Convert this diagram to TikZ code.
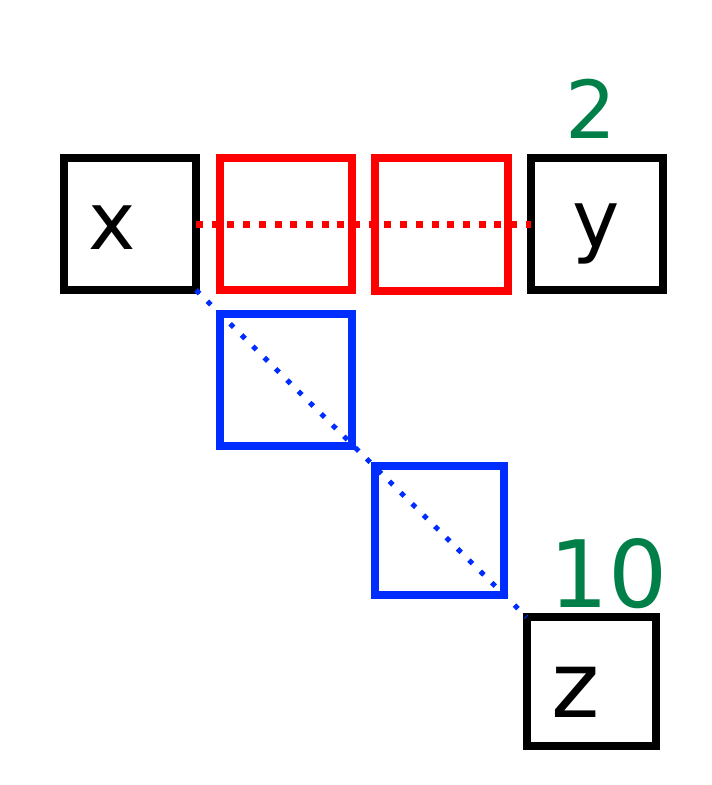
\documentclass[tikz,border=0pt]{standalone}
\usepackage{fontspec}
\setmainfont{DejaVu Sans}
\definecolor{myred}{RGB}{255,0,0}
\definecolor{myblue}{RGB}{0,45,255}
\definecolor{mygreen}{RGB}{0,128,72}
\tikzset{
  cell/.style={draw, line width=8pt, minimum size=132pt, inner sep=0pt, outer sep=0pt},
  blackcell/.style={cell, draw=black},
  redcell/.style={cell, draw=myred},
  bluecell/.style={cell, draw=myblue},
  letter/.style={inner sep=0pt, font=\fontsize{80}{80}\selectfont},
  weight/.style={inner sep=0pt, text=mygreen},
  reddots/.style={draw=myred, line width=7pt, dash pattern=on 7pt off 8.7pt},
  bluedots/.style={draw=myblue, line width=5pt, dash pattern=on 5pt off 11pt}
}
\begin{document}
\begin{tikzpicture}[x=1pt,y=-1pt]
  \useasboundingbox (0,0) rectangle (712,785);
  \fill[white] (0,0) rectangle (712,785);
  % boxes
  \node[blackcell] (x) at (130,224) {};
  \node[redcell] (r1) at (286,224) {};
  \node[redcell, minimum size=133pt] (r2) at (441.5,224) {};
  \node[blackcell] (y) at (597,224) {};
  \node[bluecell] (b1) at (286,380) {};
  \node[bluecell, minimum size=129pt] (b2) at (439.5,530) {};
  \node[blackcell, minimum size=129pt] (z) at (591,681.5) {};
  % letters
  \node[letter] (xl) at (112,228) {x};
  \node[letter] (yl) at (596,234) {y};
  \node[letter, font=\fontsize{92}{92}\selectfont] (zl) at (576,692) {z};
  % weights
  \node[weight, font=\fontsize{80}{80}\selectfont] (w2) at (591,109) {2};
  \node[weight, font=\fontsize{93}{93}\selectfont] (w10) at (609,574) {10};
  % connectors
  \draw[reddots] (x.east) -- (y.west);
  \draw[bluedots] (x.south east) -- (z.north west);
\end{tikzpicture}
\end{document}
